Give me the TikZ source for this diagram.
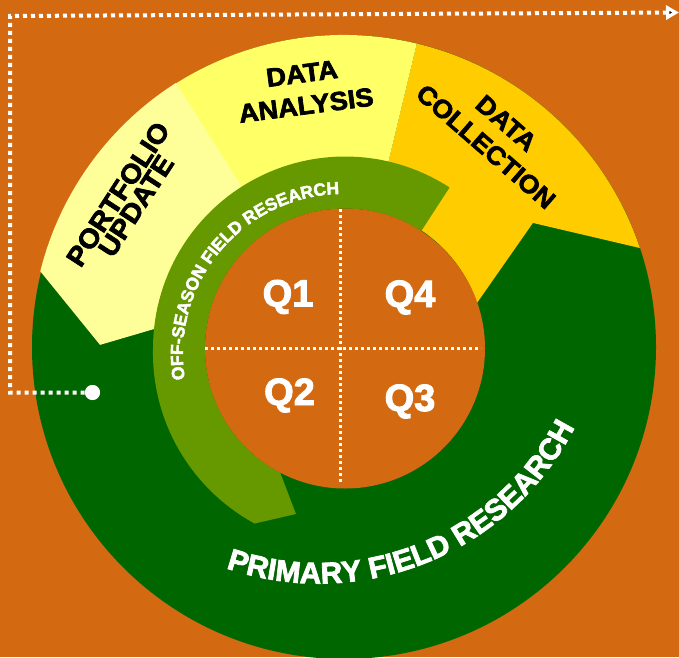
\documentclass[tikz,border=0pt]{standalone}
\usepackage{fontspec}
\newfontfamily\heavy{Liberation Sans Bold}[FakeBold=2.6, FakeStretch=1.05]
\newfontfamily\heavyn{Liberation Sans Bold}[FakeBold=2.6]
\usetikzlibrary{arrows.meta,decorations.text}
\definecolor{bgor}{RGB}{211,106,17}
\definecolor{dgreen}{RGB}{0,102,0}
\definecolor{olive}{RGB}{102,153,0}
\definecolor{pale}{RGB}{255,255,153}
\definecolor{lemon}{RGB}{255,255,102}
\definecolor{gold}{RGB}{255,204,0}
\begin{document}
\begin{tikzpicture}[x=1pt,y=1pt,
  qlab/.style={text=white, font=\heavyn\fontsize{38}{40}\selectfont, inner sep=0pt, anchor=base},
  seglab/.style={text=black, align=center, inner sep=0pt},
  dotline/.style={draw=white, line width=4pt, dash pattern=on 4pt off 4pt},
  crossline/.style={draw=white, line width=3pt, dash pattern=on 3pt off 3pt},
  enddot/.style={circle, fill=white, inner sep=0pt, minimum size=15pt}]
\fill[bgor] (0,0) rectangle (679,657);
\useasboundingbox (0,0) rectangle (679,657);
% outer wheel
\begin{scope}[shift={(344,310)}]
  \fill[dgreen] (0,0) circle[radius=312pt];
  % data collection
  \fill[gold] (18.5:312pt) arc[start angle=18.5, end angle=76.5, radius=312pt]
     -- (76.5:140pt) arc[start angle=76.5, end angle=18.3, radius=140pt]
     -- (33.3:226pt) -- cycle;
  % data analysis
  \fill[lemon] (76.5:312pt) arc[start angle=76.5, end angle=122.5, radius=314pt]
     -- (122.5:140pt) arc[start angle=122.5, end angle=76.5, radius=140pt] -- cycle;
  % portfolio update
  \fill[pale] (122.5:313pt) arc[start angle=122.5, end angle=166, radius=313pt]
     -- (179.5:244pt) -- (166:140pt) arc[start angle=166, end angle=122.5, radius=140pt] -- cycle;
\end{scope}
% off-season band and inner disc
\begin{scope}[shift={(345,308.5)}]
  \fill[olive] plot[domain=57:242.7, samples=90, variable=\t] (\t:{192+max(0,\t-180)*0.08})
     -- (253.5:172.6pt) -- (242.4:140pt)
     arc[start angle=242.4, end angle=57, radius=140pt] -- cycle;
  \fill[bgor] (0,0) circle[radius=140pt];
\end{scope}
% dotted cross
\coordinate (vtop) at (340,448);
\coordinate (vbot) at (340,174);
\coordinate (hleft) at (205,309);
\coordinate (hright) at (481,309);
\path[crossline] (vtop) -- (vbot);
\path[crossline] (hleft) -- (hright);
% quarters
\node[qlab] (q1) at (288,350.5) {Q1};
\node[qlab] (q4) at (410,350) {Q4};
\node[qlab] (q2) at (289.5,252) {Q2};
\node[qlab] (q3) at (410,246) {Q3};
% segment labels
\node[seglab, font=\heavy\fontsize{27}{21.5}\selectfont, rotate=57] (lport) at (127,457) {PORTFOLIO\\UPDATE};
\node[seglab, font=\heavy\fontsize{26}{32}\selectfont, rotate=7.4] (lanal) at (304,567.5) {DATA\\ANALYSIS};
\node[seglab, font=\heavy\fontsize{25.5}{31}\selectfont, rotate=-41] (lcoll) at (496,522) {DATA\\COLLECTION};
% curved labels
\path[shift={(319,361)}, decorate, decoration={text along path,
   text={|\heavyn\fontsize{30}{36}\selectfont|PRIMARY FIELD RESEARCH},
   text color=white, text align=center}]
   (232:287.5pt) arc[start angle=232, end angle=352, radius=287.5pt];
\path[shift={(343,303)}, decorate, decoration={text along path,
   text={|\heavyn\fontsize{17.5}{20}\selectfont|OFF-SEASON FIELD RESEARCH},
   text color=white, text align=center}]
   (200.2:160pt) arc[start angle=200.2, end angle=80.2, radius=160pt];
% dotted feedback connector
\node[enddot] (dot) at (92.5,264.5) {};
\coordinate (cbl) at (10,264.5);
\coordinate (ctl) at (10,641);
\coordinate (cend) at (679,644.5);
\path[dotline, -{Triangle[length=13pt,width=14pt]}] (dot.center) -- (cbl) -- (ctl) -- (cend);
\node[enddot] at (dot) {};
\end{tikzpicture}
\end{document}
